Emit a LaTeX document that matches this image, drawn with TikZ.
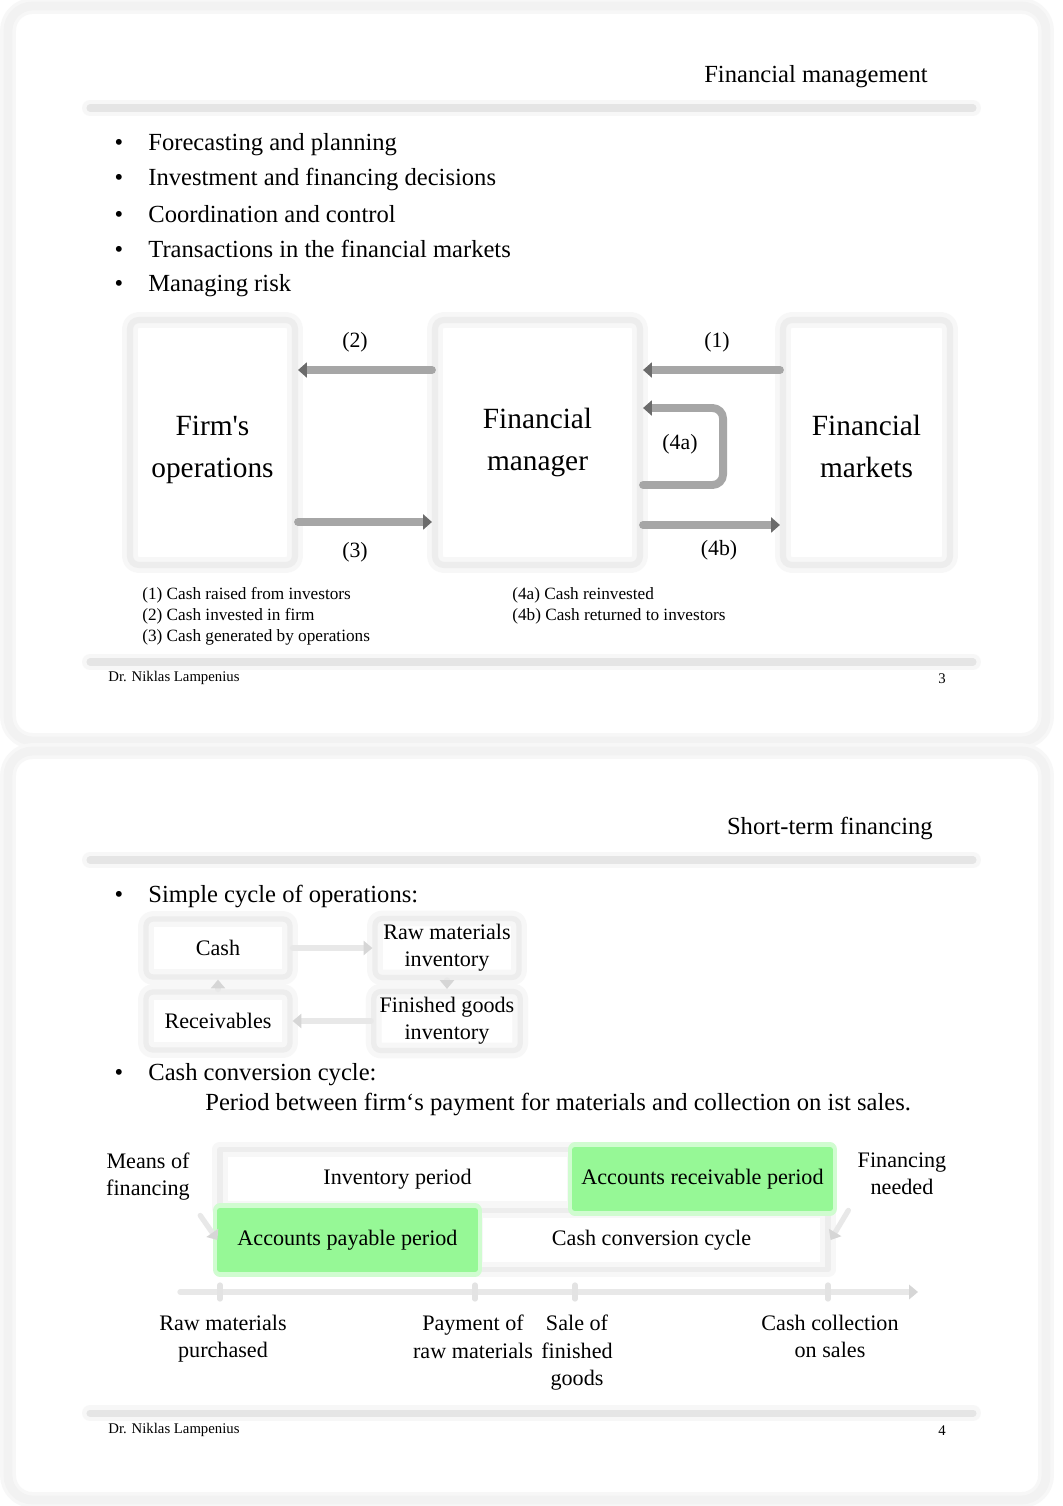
\documentclass[tikz,border=0pt]{standalone}
\usepackage{fontspec}
\setmainfont{Liberation Serif}[Ligatures=TeXOff]
\usetikzlibrary{arrows.meta}
\definecolor{lightgreen}{RGB}{150,248,150}
\newcommand{\bodysize}{\fontsize{14}{17}\selectfont}
\newcommand{\boxsize}{\fontsize{16.7}{23.9}\selectfont}
\newcommand{\numsize}{\fontsize{12.4}{15}\selectfont}
\newcommand{\chartsize}{\fontsize{12.6}{15.4}\selectfont}
\newcommand{\legsize}{\fontsize{9.8}{12}\selectfont}
\newcommand{\footsize}{\fontsize{8.4}{10}\selectfont}
\begin{document}
\begin{tikzpicture}[x=0.02cm, y=-0.02cm, line join=round, line cap=round,
    glow/.style={preaction={draw=black!3, line width=9pt}},
    slide/.style={draw=black!5, line width=5pt, rounded corners=14pt, glow},
    bar/.style={draw=black!10, line width=4pt, glow},
    bigbox/.style={draw=black!7, line width=3.5pt, rounded corners=5pt, glow, minimum height=4.9cm},
    boxtext/.style={inner sep=0pt, align=center, font=\boxsize},
    cycbox/.style={draw=black!7, line width=3pt, rounded corners=4pt, glow,
        minimum width=2.88cm, minimum height=1.16cm, align=center, font=\chartsize},
    period/.style={draw=black!7, line width=3pt, glow, minimum height=1.18cm, font=\chartsize},
    green/.style={fill=lightgreen, draw=lightgreen, line width=3pt,
        preaction={draw=lightgreen!45, line width=8pt}, minimum height=1.18cm, font=\chartsize},
    flow/.style={draw=black!35, line width=4.5pt, -{Triangle[length=5pt,width=8.5pt,color=black!58]}},
    cyc/.style={draw=black!9, line width=3pt, -{Triangle[length=5pt,width=8pt,color=black!16]}},
    item/.style={anchor=base west, inner sep=0pt, font=\bodysize},
    bul/.style={anchor=base, inner sep=0pt, font=\bodysize},
    num/.style={inner sep=0pt, font=\numsize},
    legend/.style={anchor=base west, inner sep=0pt, font=\legsize},
    foot/.style={inner sep=0pt, font=\footsize},
    note/.style={inner sep=0pt, align=center, font=\chartsize}]
\useasboundingbox (0,0) rectangle (1062,1506);
\fill[white] (0,0) rectangle (1062,1506);
% slide 3
\draw[slide] (8,6) rectangle (1046,741);
\node[anchor=base east, inner sep=0pt, font=\bodysize] (title1) at (928,82.5) {Financial management};
\draw[bar] (90,108) -- (973,108);
\node[bul] (b1) at (119,150.5) {\textbullet};
\node[item] (it1) at (148,150.5) {Forecasting and planning};
\node[bul] (b2) at (119,185.5) {\textbullet};
\node[item] (it2) at (148,185.5) {Investment and financing decisions};
\node[bul] (b3) at (119,222.5) {\textbullet};
\node[item] (it3) at (148,222.5) {Coordination and control};
\node[bul] (b4) at (119,257.5) {\textbullet};
\node[item] (it4) at (148,257.5) {Transactions in the financial markets};
\node[bul] (b5) at (119,291.5) {\textbullet};
\node[item] (it5) at (148,291.5) {Managing risk};
\node[bigbox, minimum width=3.3cm] (firm) at (212.5,442.5) {};
\node[bigbox, minimum width=4.1cm] (manager) at (537.5,442.5) {};
\node[bigbox, minimum width=3.34cm] (markets) at (866.5,442.5) {};
\node[boxtext] (firmtext) at ([yshift=-0.14cm]firm.center) {Firm's\\operations};
\node[boxtext] (managertext) at (manager.center) {Financial\\manager};
\node[boxtext] (marketstext) at ([yshift=-0.08cm]markets.center) {Financial\\markets};
\draw[flow] ([yshift=1.45cm]manager.west) -- ([yshift=1.45cm]firm.east);
\draw[flow] ([yshift=-1.59cm]firm.east) -- ([yshift=-1.59cm]manager.west);
\draw[flow] ([yshift=1.45cm]markets.west) -- ([yshift=1.45cm]manager.east);
\draw[flow] ([yshift=-1.65cm]manager.east) -- ([yshift=-1.65cm]markets.west);
\draw[flow, rounded corners=6pt] ([yshift=-0.85cm]manager.east) -- ++(1.6cm,0) -- ++(0,1.54cm) -- ([yshift=0.69cm]manager.east);
\node[num] (n2) at (355,342) {(2)};
\node[num] (n1) at (717,342) {(1)};
\node[num] (n3) at (355,552) {(3)};
\node[num] (n4b) at (719,550) {(4b)};
\node[num] (n4a) at (680,444) {(4a)};
\node[legend] (l1) at (142,599) {(1) Cash raised from investors};
\node[legend] (l2) at (142,620) {(2) Cash invested in firm};
\node[legend] (l3) at (142,641) {(3) Cash generated by operations};
\node[legend] (l4a) at (512,599) {(4a) Cash reinvested};
\node[legend] (l4b) at (512,620) {(4b) Cash returned to investors};
\draw[bar] (90,662) -- (973,662);
\node[foot, anchor=base west] (auth1) at (108,681) {Dr. Niklas Lampenius};
\node[foot, anchor=base east] (page1) at (946,683) {3};
% slide 4
\draw[slide] (8,751) rectangle (1046,1500);
\node[anchor=base east, inner sep=0pt, font=\bodysize] (title2) at (933,834.5) {Short-term financing};
\draw[bar] (90,860) -- (973,860);
\node[bul] (b6) at (119,902.5) {\textbullet};
\node[item] (it6) at (148,902.5) {Simple cycle of operations:};
\node[cycbox] (cash) at (218,948) {Cash};
\node[cycbox] (raw) at (447,948) {Raw materials\\inventory};
\node[cycbox] (fin) at (447,1021) {Finished goods\\inventory};
\node[cycbox] (recv) at (218,1021) {Receivables};
\draw[cyc] (cash) -- (raw);
\draw[cyc] (raw) -- (fin);
\draw[cyc] (fin) -- (recv);
\draw[cyc] (recv) -- (cash);
\node[bul] (b7) at (119,1080.5) {\textbullet};
\node[item] (it7) at (148,1080.5) {Cash conversion cycle:};
\node[item] (it8) at (205,1110.5) {Period between firm‘s payment for materials and collection on ist sales.};
\node[period, minimum width=7.1cm] (inv) at (397.5,1179) {Inventory period};
\node[period, minimum width=7.06cm] (ccc) at (651.5,1240) {Cash conversion cycle};
\node[green, minimum width=5.1cm] (arp) at (702.5,1179) {Accounts receivable period};
\node[green, minimum width=5.1cm] (app) at (347.5,1240) {Accounts payable period};
\node[note] (means) at (148,1177) {Means of\\financing};
\node[note] (needed) at (902,1174) {Financing\\needed};
\draw[cyc, shorten <=10pt] (means.south east) -- (app.west);
\draw[cyc, shorten <=10pt] (needed.south west) -- (ccc.east);
\coordinate (ax0) at (180,1292);
\coordinate (ax1) at (918,1292);
\draw[cyc] (ax0) -- (ax1);
\foreach \t in {220,475,575,828}
  \draw[draw=black!11, line width=3pt] (\t,1285) -- (\t,1299);
\node[note, anchor=north] (rmp) at (223,1315) {Raw materials\\purchased};
\node[note, anchor=north] (pay) at (473,1315) {Payment of\\raw materials};
\node[note, anchor=north] (sale) at (577,1315) {Sale of\\finished\\goods};
\node[note, anchor=north] (coll) at (830,1315) {Cash collection\\on sales};
\draw[bar] (90,1413) -- (973,1413);
\node[foot, anchor=base west] (auth2) at (108,1433) {Dr. Niklas Lampenius};
\node[foot, anchor=base east] (page2) at (946,1435) {4};
\end{tikzpicture}
\end{document}
